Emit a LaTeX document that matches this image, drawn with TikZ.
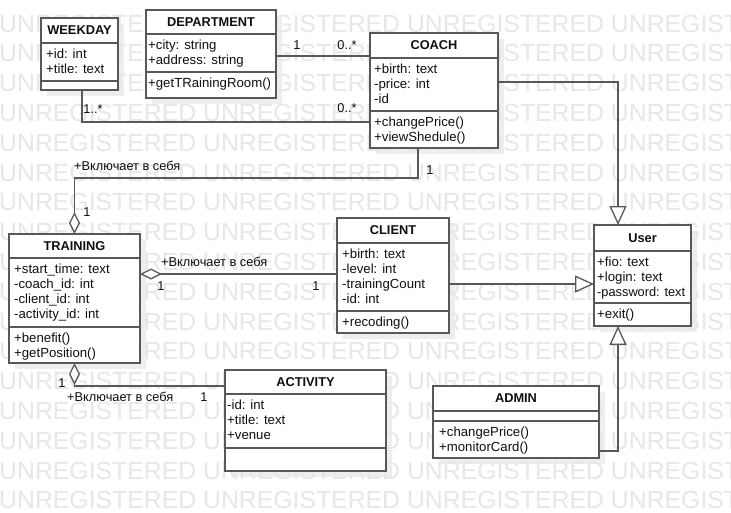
\documentclass[tikz,border=0pt]{standalone}
\usepackage{fontspec}
\setmainfont{Liberation Sans}
\usetikzlibrary{arrows.meta}
\definecolor{wmcol}{RGB}{231,231,231}
\definecolor{lncol}{RGB}{88,88,88}
\definecolor{shdcol}{RGB}{238,238,238}
\definecolor{txtcol}{RGB}{15,15,15}
% shadow: x1 y1 x2 y2
\newcommand\ushadow[4]{\fill[shdcol] ({#1+6},{#2+6}) rectangle ({#3+6},{#4+6});}
% box: name x1 y1 x2 y2 sep1 sep2 title
\newcommand\ubox[8]{%
  \node[boxst, minimum width={(#4-#2)*1pt}, minimum height={(#5-#3)*1pt}] (#1) at ({(#2+#4)/2},{(#3+#5)/2}) {};
  \draw[ln] (#2,#6) -- (#4,#6);
  \draw[ln] (#2,#7) -- (#4,#7);
  \node[ttl] (#1-title) at ({(#2+#4)/2},{(#3+#6)/2}) {#8};
}
% lines: x, baseline of first line, list
\newcommand\ulines[3]{%
  \foreach \t [count=\i from 0] in {#3} {\node[txt, anchor=base west] at ({#1},{#2+15*\i}) {\t};}
}
\begin{document}
\begin{tikzpicture}[x=1pt,y=-1pt,
  ln/.style={draw=lncol, line width=1.3pt},
  boxst/.style={draw=lncol, line width=1.3pt, fill=white, inner sep=0pt, outer sep=0pt, rectangle},
  ttl/.style={font=\fontsize{12.8}{15}\selectfont\bfseries, text=txtcol, inner sep=0pt},
  txt/.style={font=\fontsize{13.2}{15}\selectfont, text=txtcol, inner sep=0pt},
  lbl/.style={font=\fontsize{12.8}{15}\selectfont, text=txtcol, inner sep=0pt},
  wmst/.style={font=\fontsize{24.8}{28}\selectfont, text=wmcol, inner sep=0pt},
  gen/.style={-{Triangle[fill=white,length=19pt,width=17pt]}},
  aggs/.style={{Diamond[fill=white,length=22pt,width=11pt]}-},
  agge/.style={-{Diamond[fill=white,length=22pt,width=11pt]}}
]
\useasboundingbox (0,0) rectangle (731,512);
\fill[white] (0,0) rectangle (731,512);
% shadows
\ushadow{41}{18}{118}{90}
\ushadow{146}{10}{276}{98}
\ushadow{370}{33}{498}{148}
\ushadow{9}{234}{140}{363}
\ushadow{337}{218}{449}{333}
\ushadow{594}{225}{691}{326}
\ushadow{225}{370}{386}{471}
\ushadow{433}{386}{599}{458}
% watermark
\begin{scope}
\clip (0,0) rectangle (731,512);
\foreach \k in {0,...,16} {\node[wmst, anchor=base west] (wm\k) at (-1,{32+29.8*\k}) {UNREGISTERED UNREGISTERED UNREGISTERED UNREGISTERED};}
\end{scope}
% classes
\ubox{WEEK}{41}{18}{118}{90}{43}{81}{WEEKDAY}
\ulines{46}{58.5}{+id: int,+title: text}
\ubox{DEPT}{146}{10}{276}{98}{34}{72}{DEPARTMENT}
\ulines{148}{49.5}{+city: string,+address: string}
\ulines{148}{87.5}{+getTRainingRoom()}
\ubox{COACH}{370}{33}{498}{148}{58}{111}{COACH}
\ulines{374}{73.5}{+birth: text,-price: int,-id}
\ulines{374}{126.5}{+changePrice(),+viewShedule()}
\ubox{TRAIN}{9}{234}{140}{363}{258}{327}{TRAINING}
\ulines{14}{273.5}{+start\_time: text,-coach\_id: int,-client\_id: int,-activity\_id: int}
\ulines{14}{342.5}{+benefit(),+getPosition()}
\ubox{CLIENT}{337}{218}{449}{333}{243}{311}{CLIENT}
\ulines{342}{258.5}{+birth: text,-level: int,-trainingCount,-id: int}
\ulines{342}{326.5}{+recoding()}
\ubox{USER}{594}{225}{691}{326}{251}{303}{User}
\ulines{597}{266.5}{+fio: text,+login: text}
\node[txt, anchor=base west, font=\fontsize{12.8}{15}\selectfont] at (597,296.5) {-password: text};
\ulines{597}{318.5}{+exit()}
\ubox{ACT}{225}{370}{386}{471}{394}{448}{ACTIVITY}
\ulines{227}{409.5}{-id: int,+title: text,+venue}
\ubox{ADMIN}{433}{386}{599}{458}{411}{421}{ADMIN}
\ulines{439}{436.5}{+changePrice(),+monitorCard()}
% connectors
\draw[ln] ([yshift=-2pt]DEPT.east) -- ([yshift=-2pt]DEPT.east -| COACH.west);
\draw[ln] ([xshift=2.5pt]WEEK.south) |- ([yshift=-31.5pt]COACH.west);
\draw[ln,gen] ([yshift=8.5pt]COACH.east) -| ([xshift=-24.5pt]USER.north);
\draw[ln,agge] ([xshift=-16pt]COACH.south) -- ++(0,30) -| (TRAIN.north);
\draw[ln,aggs] ([yshift=24.5pt]TRAIN.east) -- ([yshift=24.5pt]TRAIN.east -| CLIENT.west);
\draw[ln,gen] ([yshift=-8.5pt]CLIENT.east) -- ([yshift=-8.5pt]CLIENT.east -| USER.west);
\draw[ln,aggs] (TRAIN.south) |- ([yshift=34.5pt]ACT.west);
\draw[ln,gen] ([yshift=-29pt]ADMIN.east) -| ([xshift=-24.5pt]USER.south);
% labels
\node[lbl] (l1) at (297,45) {1};
\node[lbl] (l2) at (347,45) {0..*};
\node[lbl] (l3) at (93,109) {1..*};
\node[lbl] (l4) at (347,108) {0..*};
\node[lbl] (l5) at (430,170) {1};
\node[lbl, anchor=west] (l6) at (74,166) {+Включает в себя};
\node[lbl] (l7) at (87,212) {1};
\node[lbl, anchor=west] (l8) at (161,262) {+Включает в себя};
\node[lbl] (l9) at (161,286) {1};
\node[lbl] (l10) at (316,286) {1};
\node[lbl] (l11) at (62,383) {1};
\node[lbl, anchor=west] (l12) at (67,397) {+Включает в себя};
\node[lbl] (l13) at (204,397) {1};
\end{tikzpicture}
\end{document}
